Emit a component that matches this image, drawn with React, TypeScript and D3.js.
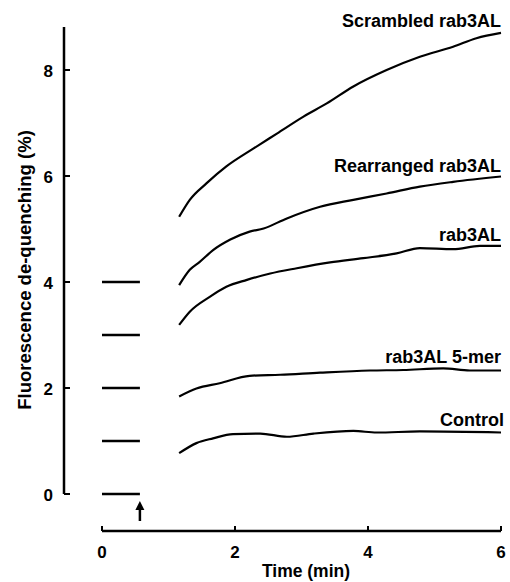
import React from "react";
import * as d3 from "d3";

const xTicks = [0, 2, 4, 6];
const yTicks = [0, 2, 4, 6, 8];
const baselineLevels = [0, 1, 2, 3, 4];
const baselineRange = [0, 0.57];
const arrowTime = 0.57;

const seriesNames = ["Scrambled rab3AL", "Rearranged rab3AL", "rab3AL", "rab3AL 5-mer", "Control"];

const scrambledT = [1.16, 1.32, 1.57, 1.87, 2.28, 2.63, 3.03, 3.38, 3.78, 4.28, 4.78, 5.28, 5.63, 6.0];
const scrambledV = [5.23, 5.55, 5.86, 6.18, 6.52, 6.8, 7.12, 7.37, 7.69, 8.0, 8.25, 8.44, 8.6, 8.7];

const rearrT = [1.16, 1.32, 1.47, 1.67, 1.93, 2.22, 2.43, 2.78, 3.28, 3.78, 4.28, 4.78, 5.28, 6.0];
const rearrV = [3.94, 4.23, 4.38, 4.6, 4.8, 4.95, 5.01, 5.2, 5.42, 5.55, 5.67, 5.8, 5.89, 5.99];

const rabT = [1.16, 1.32, 1.62, 1.87, 2.18, 2.53, 2.93, 3.43, 3.93, 4.43, 4.78, 5.28, 5.68, 6.0];
const rabV = [3.19, 3.44, 3.72, 3.91, 4.04, 4.16, 4.26, 4.37, 4.45, 4.54, 4.64, 4.62, 4.68, 4.68];

const merT = [1.16, 1.42, 1.77, 2.22, 2.68, 3.28, 4.03, 4.53, 5.13, 5.53, 6.0];
const merV = [1.84, 1.99, 2.09, 2.23, 2.25, 2.29, 2.33, 2.34, 2.37, 2.33, 2.33];

const ctrlT = [1.16, 1.42, 1.67, 1.97, 2.38, 2.78, 3.18, 3.78, 4.13, 4.78, 6.0];
const ctrlV = [0.77, 0.96, 1.05, 1.13, 1.14, 1.08, 1.14, 1.19, 1.16, 1.18, 1.16];

const labelBaselines = [27, 172, 241, 363, 426];
const labelRightEdges = [501, 501, 501, 501, 504];

const FONT = "'Liberation Sans', Arial, sans-serif";

export default function App() {
  const x = d3.scaleLinear().domain([0, 6]).range([102, 501]);
  const y = d3.scaleLinear().domain([0, 8]).range([494, 70]);
  const yTop = 27;
  const xAxisY = 531;
  const yAxisX = 64;

  const series = [
    [scrambledT, scrambledV],
    [rearrT, rearrV],
    [rabT, rabV],
    [merT, merV],
    [ctrlT, ctrlV],
  ];

  const line = d3
    .line<[number, number]>()
    .x((d) => x(d[0]))
    .y((d) => y(d[1]))
    .curve(d3.curveMonotoneX);

  const ax = x(arrowTime);

  return (
    <svg
      width={510}
      height={582}
      style={{ position: "absolute", left: 0, top: 0, background: "#fff" }}
      fontFamily={FONT}
      fontWeight="bold"
    >
      {/* Y axis */}
      <line x1={yAxisX} x2={yAxisX} y1={yTop} y2={y(0)} stroke="#000" strokeWidth={2.5} />
      {yTicks.map((t) => (
        <g key={"yt" + t}>
          <line x1={yAxisX} x2={yAxisX + 6} y1={y(t)} y2={y(t)} stroke="#000" strokeWidth={2} />
          <text x={53} y={y(t) + 7} textAnchor="end" fontSize={17}>
            {t}
          </text>
        </g>
      ))}
      <text transform={`translate(31,270) rotate(-90)`} textAnchor="middle" fontSize={18.5}>
        Fluorescence de-quenching (%)
      </text>

      {/* X axis */}
      <line x1={x(0)} x2={x(6)} y1={xAxisY} y2={xAxisY} stroke="#000" strokeWidth={2.5} />
      {xTicks.map((t) => (
        <g key={"xt" + t}>
          <line x1={x(t)} x2={x(t)} y1={xAxisY} y2={xAxisY - 5} stroke="#000" strokeWidth={2} />
          <text x={x(t)} y={558} textAnchor="middle" fontSize={17}>
            {t}
          </text>
        </g>
      ))}
      <text x={306} y={577} textAnchor="middle" fontSize={17.5}>
        Time (min)
      </text>

      {/* baseline markers */}
      {baselineLevels.map((v) => (
        <line
          key={"b" + v}
          x1={x(baselineRange[0])}
          x2={x(baselineRange[1])}
          y1={y(v)}
          y2={y(v)}
          stroke="#000"
          strokeWidth={2.3}
        />
      ))}

      {/* arrow */}
      <line x1={ax} x2={ax} y1={521} y2={508} stroke="#000" strokeWidth={2.5} />
      <path d={`M${ax - 4.5},${510} L${ax},${501} L${ax + 4.5},${510} Z`} fill="#000" />

      {/* curves */}
      {series.map(([ts, vs], i) => {
        const pts: [number, number][] = ts.map((t, j) => [t, vs[j]]);
        return <path key={"s" + i} d={line(pts) || ""} fill="none" stroke="#000" strokeWidth={2.2} />;
      })}

      {/* labels */}
      {seriesNames.map((n, i) => (
        <text key={"l" + i} x={labelRightEdges[i]} y={labelBaselines[i]} textAnchor="end" fontSize={18}>
          {n}
        </text>
      ))}
    </svg>
  );
}
